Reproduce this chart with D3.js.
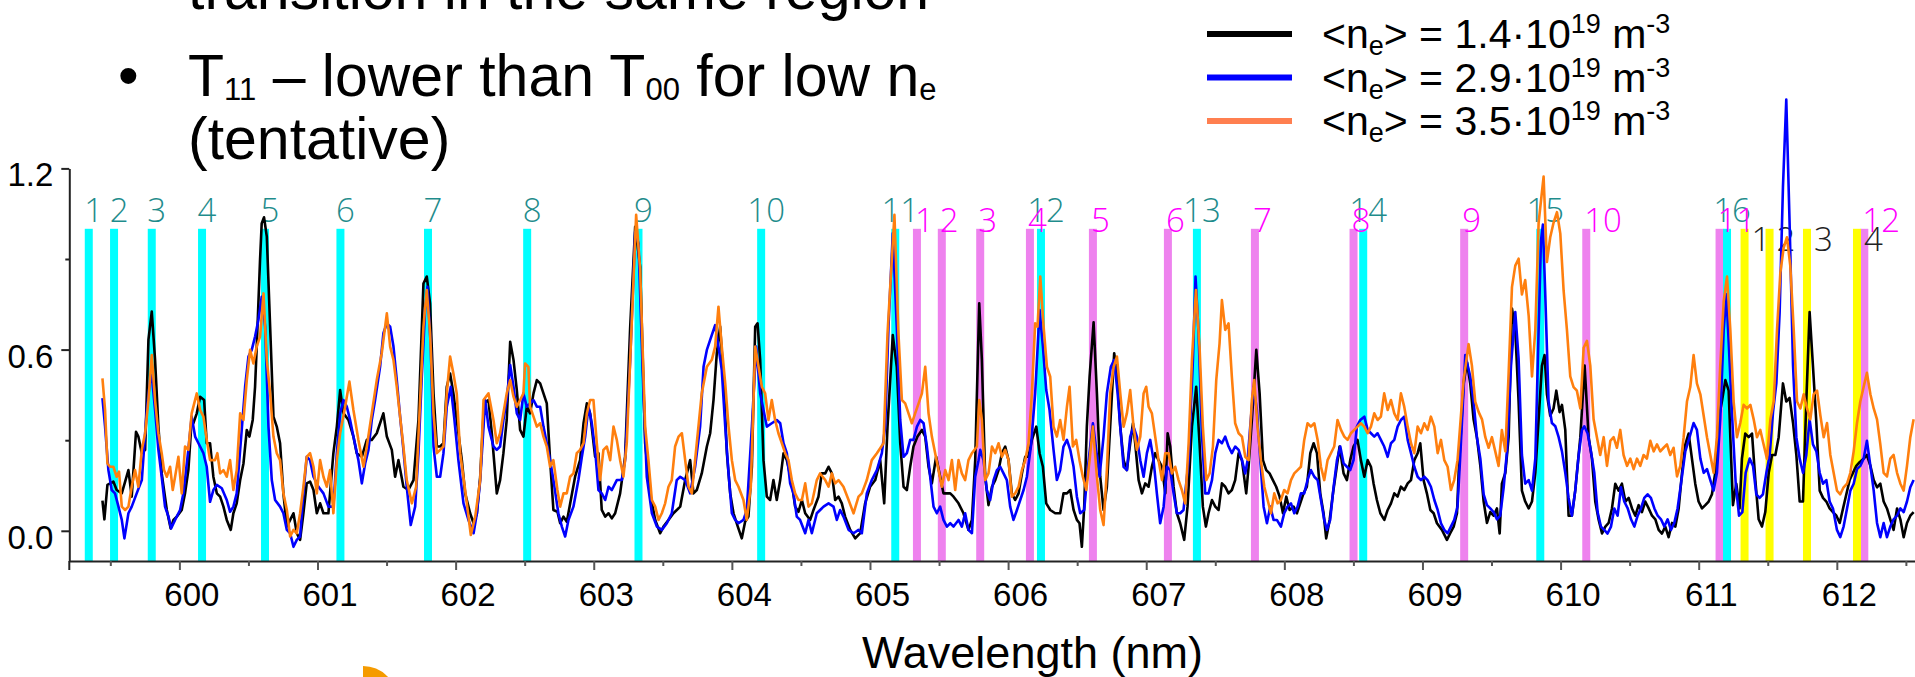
<!DOCTYPE html>
<html>
<head>
<meta charset="utf-8">
<script src="https://cdn.jsdelivr.net/npm/d3@7"></script>
<style>
  body { margin: 0; background: #fff; }
  svg { display: block; font-family: "Liberation Sans", Arial, sans-serif; white-space: pre; }
  .mark-label { font-family: "Open Sans", "Noto Sans", sans-serif; font-weight: 300; font-size: 33px; }
</style>
</head>
<body>
<svg id="chart" width="1915" height="677"></svg>
<script>
// line positions (nm) for the three marker families
const cyanLines = [599.344, 599.527, 599.80, 600.164, 600.62, 601.166, 601.80, 602.518, 603.324,
  604.212, 605.183, 606.238, 607.367, 608.571, 609.853, 611.205];
const magentaLines = [605.34, 605.52, 605.798, 606.158, 606.614, 607.157, 607.787, 608.501,
  609.302, 610.186, 611.151, 612.199];
const yellowLines = [611.332, 611.513, 611.784, 612.146];

const xTicks = [600, 601, 602, 603, 604, 605, 606, 607, 608, 609, 610, 611, 612];
const xMinor = [599.5, 600.5, 601.5, 602.5, 603.5, 604.5, 605.5, 606.5, 607.5, 608.5, 609.5, 610.5, 611.5, 612.5];
const yTicks = [0.0, 0.6, 1.2];
const yMinor = [0.3, 0.9];

const densities = ["1.4", "2.9", "3.5"];

// spectra: [wavelength nm, intensity]
const black = [
  [599.443,0.100],[599.457,0.038],[599.479,0.152],[599.522,0.163],[599.546,0.135],[599.583,0.124],
  [599.631,0.201],[599.655,0.113],[599.686,0.328],[599.703,0.312],[599.728,0.257],[599.752,0.268],
  [599.776,0.632],[599.800,0.726],[599.824,0.566],[599.848,0.345],[599.872,0.190],[599.909,0.069],
  [599.937,0.008],[599.957,0.036],[599.981,0.047],[600.017,0.069],[600.041,0.124],[600.065,0.201],
  [600.089,0.367],[600.101,0.356],[600.126,0.389],[600.150,0.444],[600.179,0.433],[600.198,0.290],
  [600.222,0.290],[600.246,0.179],[600.271,0.124],[600.295,0.113],[600.319,0.080],[600.343,0.036],
  [600.372,0.003],[600.391,0.058],[600.415,0.091],[600.440,0.168],[600.464,0.223],[600.488,0.334],
  [600.507,0.312],[600.531,0.367],[600.548,0.477],[600.560,0.610],[600.584,0.897],[600.596,1.018],
  [600.613,1.038],[600.633,0.974],[600.657,0.676],[600.681,0.378],[600.705,0.345],[600.729,0.290],
  [600.753,0.124],[600.778,0.014],[600.802,0.036],[600.826,0.058],[600.850,-0.008],[600.874,-0.030],
  [600.898,0.058],[600.922,0.157],[600.946,0.163],[600.971,0.135],[600.995,0.058],[601.019,0.091],
  [601.043,0.058],[601.079,0.058],[601.115,0.257],[601.140,0.345],[601.164,0.466],[601.188,0.389],
  [601.224,0.367],[601.260,0.312],[601.284,0.257],[601.321,0.245],[601.357,0.301],[601.393,0.301],
  [601.429,0.323],[601.477,0.389],[601.502,0.312],[601.538,0.268],[601.562,0.179],[601.586,0.234],
  [601.622,0.146],[601.658,0.135],[601.695,0.168],[601.731,0.367],[601.767,0.819],[601.791,0.842],
  [601.815,0.753],[601.840,0.455],[601.864,0.279],[601.888,0.279],[601.912,0.290],[601.936,0.477],
  [601.960,0.521],[601.984,0.455],[602.008,0.367],[602.045,0.234],[602.069,0.124],[602.105,0.058],
  [602.130,0.025],[602.154,0.058],[602.178,0.179],[602.206,0.422],[602.238,0.433],[602.262,0.323],
  [602.298,0.124],[602.322,0.168],[602.346,0.257],[602.370,0.367],[602.395,0.626],[602.419,0.566],
  [602.443,0.466],[602.467,0.334],[602.491,0.312],[602.515,0.411],[602.539,0.389],[602.564,0.455],
  [602.588,0.499],[602.612,0.488],[602.636,0.455],[602.660,0.422],[602.684,0.234],[602.708,0.069],
  [602.737,0.063],[602.757,0.025],[602.781,0.047],[602.805,0.030],[602.834,0.102],[602.865,0.179],
  [602.901,0.234],[602.926,0.356],[602.950,0.422],[602.974,0.389],[603.010,0.245],[603.034,0.257],
  [603.058,0.069],[603.083,0.047],[603.107,0.058],[603.131,0.041],[603.155,0.058],[603.191,0.124],
  [603.227,0.245],[603.264,0.676],[603.300,1.007],[603.336,0.875],[603.372,0.290],[603.408,0.124],
  [603.445,0.036],[603.481,-0.008],[603.505,0.014],[603.541,0.036],[603.577,0.058],[603.626,0.080],
  [603.662,0.168],[603.698,0.234],[603.722,0.124],[603.746,0.135],[603.782,0.190],[603.819,0.279],
  [603.843,0.323],[603.867,0.433],[603.891,0.588],[603.915,0.676],[603.939,0.510],[603.964,0.257],
  [603.988,0.124],[604.012,0.058],[604.043,0.014],[604.072,-0.025],[604.096,0.030],[604.120,0.047],
  [604.145,0.212],[604.169,0.676],[604.186,0.687],[604.205,0.566],[604.229,0.234],[604.253,0.113],
  [604.277,0.102],[604.301,0.168],[604.325,0.102],[604.350,0.168],[604.374,0.257],[604.398,0.234],
  [604.434,0.157],[604.458,0.080],[604.482,0.063],[604.507,0.102],[604.531,0.058],[604.567,0.036],
  [604.591,0.069],[604.627,0.113],[604.651,0.190],[604.676,0.190],[604.700,0.212],[604.724,0.190],
  [604.748,0.102],[604.772,0.113],[604.796,0.091],[604.820,0.047],[604.857,0.003],[604.893,-0.025],
  [604.929,-0.008],[604.965,0.091],[605.001,0.146],[605.038,0.168],[605.074,0.234],[605.103,0.091],
  [605.127,0.345],[605.165,0.648],[605.194,0.543],[605.219,0.290],[605.243,0.146],[605.267,0.135],
  [605.291,0.212],[605.315,0.279],[605.344,0.312],[605.376,0.334],[605.400,0.312],[605.424,0.212],
  [605.448,0.157],[605.479,0.245],[605.508,0.179],[605.532,0.124],[605.581,0.124],[605.605,0.113],
  [605.641,0.091],[605.677,0.058],[605.713,0.003],[605.738,0.036],[605.762,0.234],[605.791,0.753],
  [605.810,0.566],[605.834,0.179],[605.858,0.085],[605.883,0.146],[605.907,0.168],[605.931,0.201],
  [605.955,0.257],[605.979,0.279],[606.003,0.234],[606.027,0.124],[606.051,0.102],[606.076,0.124],
  [606.100,0.190],[606.124,0.245],[606.148,0.245],[606.172,0.301],[606.204,0.345],[606.228,0.257],
  [606.252,0.212],[606.276,0.091],[606.305,0.069],[606.341,0.058],[606.377,0.058],[606.401,0.124],
  [606.426,0.124],[606.450,0.135],[606.474,0.069],[606.498,0.036],[606.517,0.025],[606.534,-0.053],
  [606.551,0.080],[606.570,0.345],[606.590,0.510],[606.619,0.690],[606.643,0.455],[606.667,0.179],
  [606.691,0.069],[606.715,0.146],[606.739,0.345],[606.768,0.588],[606.788,0.521],[606.812,0.345],
  [606.836,0.234],[606.860,0.201],[606.884,0.290],[606.904,0.356],[606.920,0.290],[606.945,0.168],
  [606.969,0.124],[606.993,0.157],[607.017,0.146],[607.041,0.212],[607.065,0.257],[607.089,0.234],
  [607.114,0.212],[607.138,0.124],[607.155,0.323],[607.174,0.279],[607.198,0.146],[607.222,0.058],
  [607.246,0.025],[607.275,-0.030],[607.299,0.080],[607.331,0.345],[607.362,0.477],[607.386,0.290],
  [607.410,0.080],[607.432,0.014],[607.451,0.058],[607.476,0.102],[607.500,0.080],[607.524,0.069],
  [607.548,0.157],[607.572,0.146],[607.596,0.124],[607.620,0.135],[607.644,0.168],[607.669,0.257],
  [607.693,0.234],[607.724,0.124],[607.741,0.212],[607.765,0.367],[607.797,0.599],[607.821,0.455],
  [607.845,0.234],[607.869,0.201],[607.893,0.190],[607.917,0.168],[607.941,0.146],[607.966,0.113],
  [607.990,0.058],[608.014,0.113],[608.038,0.069],[608.067,0.080],[608.091,0.058],[608.115,0.091],
  [608.139,0.124],[608.163,0.146],[608.188,0.257],[608.212,0.290],[608.236,0.257],[608.260,0.124],
  [608.284,0.058],[608.303,-0.025],[608.328,0.036],[608.352,0.124],[608.376,0.201],[608.400,0.279],
  [608.429,0.190],[608.453,0.168],[608.477,0.234],[608.501,0.279],[608.530,0.301],[608.554,0.234],
  [608.579,0.179],[608.603,0.234],[608.627,0.212],[608.646,0.157],[608.670,0.102],[608.695,0.058],
  [608.724,0.036],[608.748,0.069],[608.772,0.091],[608.796,0.124],[608.820,0.113],[608.844,0.146],
  [608.868,0.135],[608.893,0.157],[608.917,0.168],[608.941,0.234],[608.965,0.257],[608.984,0.290],
  [609.008,0.168],[609.032,0.124],[609.057,0.069],[609.081,0.058],[609.105,0.025],[609.141,0.003],
  [609.177,-0.030],[609.201,-0.008],[609.226,0.014],[609.250,0.058],[609.262,0.192],[609.298,0.488],
  [609.322,0.558],[609.346,0.488],[609.370,0.369],[609.394,0.310],[609.419,0.215],[609.443,0.097],
  [609.467,0.026],[609.491,0.062],[609.515,0.050],[609.539,0.074],[609.559,-0.009],[609.575,0.156],
  [609.600,0.192],[609.624,0.310],[609.648,0.736],[609.672,0.665],[609.696,0.428],[609.720,0.133],
  [609.744,0.097],[609.769,0.074],[609.793,0.097],[609.817,0.192],[609.841,0.369],[609.865,0.547],
  [609.884,0.582],[609.901,0.452],[609.925,0.381],[609.949,0.405],[609.969,0.464],[609.993,0.393],
  [610.010,0.417],[610.034,0.334],[610.058,0.050],[610.082,0.050],[610.106,0.133],[610.143,0.310],
  [610.174,0.547],[610.203,0.310],[610.227,0.239],[610.251,0.097],[610.275,0.038],[610.300,-0.009],
  [610.324,0.014],[610.348,0.026],[610.372,0.074],[610.396,0.156],[610.420,0.133],[610.444,0.156],
  [610.469,0.097],[610.493,0.109],[610.517,0.074],[610.541,0.050],[610.565,0.085],[610.589,0.062],
  [610.613,0.097],[610.638,0.074],[610.662,0.050],[610.686,0.038],[610.710,0.003],[610.734,-0.009],
  [610.758,0.014],[610.782,-0.021],[610.807,0.026],[610.831,0.014],[610.855,0.074],[610.879,0.192],
  [610.903,0.286],[610.927,0.322],[610.951,0.239],[610.975,0.156],[610.999,0.097],[611.024,0.074],
  [611.048,0.085],[611.072,0.097],[611.096,0.121],[611.120,0.192],[611.144,0.369],[611.168,0.428],
  [611.193,0.499],[611.217,0.464],[611.229,0.310],[611.248,0.085],[611.272,0.156],[611.296,0.074],
  [611.313,0.239],[611.337,0.322],[611.362,0.310],[611.386,0.322],[611.410,0.168],[611.434,0.038],
  [611.458,0.014],[611.482,0.062],[611.507,0.192],[611.531,0.251],[611.555,0.251],[611.579,0.310],
  [611.610,0.488],[611.634,0.428],[611.658,0.440],[611.683,0.357],[611.707,0.251],[611.731,0.097],
  [611.755,0.097],[611.779,0.428],[611.803,0.724],[611.827,0.547],[611.852,0.357],[611.876,0.133],
  [611.900,0.109],[611.924,0.097],[611.948,0.074],[611.972,0.062],[611.997,0.050],[612.021,0.026],
  [612.045,0.074],[612.069,0.121],[612.093,0.168],[612.117,0.192],[612.141,0.215],[612.165,0.227],
  [612.194,0.239],[612.218,0.251],[612.243,0.215],[612.267,0.168],[612.291,0.144],[612.315,0.156],
  [612.339,0.097],[612.363,0.074],[612.387,0.038],[612.411,0.003],[612.436,0.074],[612.460,0.038],
  [612.484,-0.021],[612.508,0.026],[612.532,0.050],[612.556,0.062]
];

const blue = [
  [599.443,0.439],[599.462,0.345],[599.486,0.201],[599.510,0.135],[599.534,0.124],[599.559,0.080],
  [599.583,0.036],[599.602,-0.025],[599.631,0.058],[599.655,0.080],[599.691,0.124],[599.728,0.168],
  [599.764,0.400],[599.788,0.499],[599.800,0.516],[599.824,0.400],[599.848,0.268],[599.872,0.179],
  [599.896,0.080],[599.921,0.047],[599.940,0.008],[599.969,0.036],[600.005,0.069],[600.029,0.124],
  [600.065,0.268],[600.089,0.378],[600.114,0.312],[600.138,0.290],[600.174,0.257],[600.198,0.212],
  [600.222,0.096],[600.246,0.135],[600.271,0.152],[600.307,0.141],[600.343,0.102],[600.367,0.063],
  [600.391,0.080],[600.415,0.124],[600.440,0.268],[600.476,0.477],[600.500,0.577],[600.524,0.599],
  [600.548,0.643],[600.572,0.698],[600.596,0.775],[600.621,0.676],[600.645,0.345],[600.669,0.168],
  [600.693,0.102],[600.729,0.080],[600.753,0.058],[600.778,0.003],[600.802,-0.008],[600.826,-0.053],
  [600.850,-0.030],[600.874,-0.019],[600.898,0.124],[600.922,0.245],[600.946,0.234],[600.971,0.179],
  [601.007,0.146],[601.043,0.124],[601.079,0.080],[601.115,0.080],[601.140,0.257],[601.164,0.389],
  [601.188,0.433],[601.212,0.411],[601.236,0.367],[601.260,0.312],[601.296,0.234],[601.321,0.157],
  [601.345,0.223],[601.369,0.268],[601.393,0.367],[601.417,0.433],[601.453,0.543],[601.477,0.654],
  [601.502,0.687],[601.526,0.676],[601.550,0.610],[601.574,0.499],[601.598,0.378],[601.622,0.268],
  [601.646,0.146],[601.675,0.019],[601.707,0.080],[601.731,0.257],[601.755,0.510],[601.779,0.731],
  [601.796,0.808],[601.820,0.610],[601.840,0.279],[601.864,0.179],[601.888,0.179],[601.912,0.257],
  [601.936,0.411],[601.965,0.477],[601.989,0.378],[602.020,0.234],[602.057,0.091],[602.093,0.036],
  [602.130,-0.008],[602.154,0.058],[602.178,0.168],[602.214,0.433],[602.238,0.345],[602.274,0.279],
  [602.298,0.268],[602.322,0.279],[602.346,0.367],[602.370,0.433],[602.395,0.549],[602.419,0.477],
  [602.443,0.389],[602.467,0.367],[602.491,0.455],[602.515,0.411],[602.539,0.422],[602.564,0.433],
  [602.588,0.411],[602.612,0.411],[602.636,0.345],[602.660,0.290],[602.684,0.234],[602.708,0.168],
  [602.744,0.058],[602.769,0.014],[602.793,-0.019],[602.817,0.036],[602.853,0.080],[602.889,0.168],
  [602.914,0.245],[602.938,0.312],[602.962,0.411],[602.986,0.356],[603.010,0.268],[603.034,0.135],
  [603.058,0.124],[603.083,0.102],[603.107,0.146],[603.131,0.135],[603.167,0.168],[603.203,0.168],
  [603.227,0.234],[603.264,0.566],[603.300,0.990],[603.324,0.952],[603.360,0.455],[603.384,0.179],
  [603.421,0.058],[603.457,0.014],[603.493,0.003],[603.529,0.025],[603.565,0.058],[603.601,0.168],
  [603.626,0.179],[603.662,0.168],[603.698,0.124],[603.734,0.212],[603.770,0.345],[603.795,0.543],
  [603.819,0.599],[603.843,0.632],[603.879,0.681],[603.903,0.610],[603.927,0.532],[603.952,0.345],
  [603.976,0.190],[604.000,0.058],[604.024,0.036],[604.048,0.025],[604.084,0.036],[604.108,0.069],
  [604.145,0.345],[604.176,0.610],[604.205,0.455],[604.229,0.400],[604.253,0.345],[604.289,0.356],
  [604.325,0.367],[604.350,0.356],[604.374,0.290],[604.398,0.257],[604.422,0.157],[604.446,0.124],
  [604.470,0.047],[604.494,0.036],[604.531,-0.008],[604.555,0.036],[604.579,-0.008],[604.615,0.058],
  [604.639,0.069],[604.664,0.080],[604.700,0.091],[604.736,0.080],[604.760,0.036],[604.784,0.069],
  [604.808,0.047],[604.845,0.003],[604.881,-0.008],[604.917,0.003],[604.941,-0.008],[604.977,0.124],
  [605.013,0.168],[605.050,0.201],[605.086,0.257],[605.110,0.345],[605.134,0.676],[605.165,0.985],
  [605.194,0.676],[605.219,0.367],[605.243,0.245],[605.267,0.257],[605.291,0.301],[605.315,0.301],
  [605.340,0.345],[605.364,0.367],[605.388,0.356],[605.412,0.279],[605.436,0.179],[605.460,0.080],
  [605.484,0.058],[605.508,0.080],[605.532,0.036],[605.557,0.014],[605.581,0.025],[605.605,0.014],
  [605.641,0.036],[605.665,0.014],[605.689,0.058],[605.713,0.003],[605.738,-0.008],[605.762,0.179],
  [605.786,0.234],[605.798,0.268],[605.822,0.234],[605.846,0.135],[605.870,0.102],[605.895,0.168],
  [605.919,0.201],[605.943,0.212],[605.967,0.190],[605.991,0.168],[606.015,0.080],[606.039,0.036],
  [606.064,0.069],[606.088,0.102],[606.112,0.135],[606.136,0.179],[606.165,0.279],[606.196,0.455],
  [606.228,0.731],[606.252,0.610],[606.276,0.466],[606.300,0.400],[606.329,0.268],[606.353,0.168],
  [606.377,0.201],[606.401,0.279],[606.426,0.301],[606.450,0.268],[606.474,0.212],[606.498,0.113],
  [606.522,0.058],[606.551,0.069],[606.583,0.234],[606.614,0.356],[606.638,0.268],[606.662,0.179],
  [606.691,0.312],[606.715,0.455],[606.744,0.543],[606.768,0.566],[606.793,0.455],[606.812,0.345],
  [606.836,0.212],[606.860,0.201],[606.884,0.312],[606.908,0.345],[606.932,0.312],[606.957,0.234],
  [606.981,0.179],[607.005,0.257],[607.029,0.301],[607.053,0.234],[607.077,0.124],[607.101,0.025],
  [607.126,0.080],[607.150,0.212],[607.174,0.201],[607.198,0.124],[607.222,0.058],[607.246,0.058],
  [607.270,0.069],[607.307,0.234],[607.338,0.566],[607.357,0.842],[607.379,0.654],[607.403,0.323],
  [607.427,0.124],[607.451,0.124],[607.476,0.168],[607.500,0.257],[607.524,0.301],[607.548,0.290],
  [607.572,0.312],[607.596,0.279],[607.620,0.257],[607.644,0.279],[607.669,0.268],[607.693,0.234],
  [607.717,0.190],[607.734,0.234],[607.753,0.345],[607.777,0.477],[607.801,0.400],[607.826,0.234],
  [607.850,0.080],[607.874,0.025],[607.898,0.080],[607.922,0.036],[607.946,0.036],[607.975,0.014],
  [607.999,0.058],[608.023,0.080],[608.048,0.091],[608.072,0.058],[608.096,0.080],[608.120,0.124],
  [608.144,0.124],[608.168,0.168],[608.192,0.201],[608.217,0.179],[608.241,0.168],[608.265,0.102],
  [608.289,0.036],[608.308,0.003],[608.332,0.036],[608.357,0.146],[608.381,0.234],[608.405,0.279],
  [608.429,0.223],[608.453,0.212],[608.477,0.201],[608.501,0.234],[608.525,0.345],[608.550,0.367],
  [608.579,0.378],[608.603,0.334],[608.627,0.323],[608.651,0.312],[608.675,0.323],[608.699,0.301],
  [608.723,0.279],[608.748,0.245],[608.772,0.290],[608.796,0.301],[608.820,0.345],[608.844,0.367],
  [608.868,0.378],[608.893,0.301],[608.917,0.257],[608.941,0.212],[608.965,0.179],[608.989,0.168],
  [609.013,0.179],[609.037,0.168],[609.061,0.146],[609.086,0.102],[609.110,0.069],[609.134,0.025],
  [609.158,0.003],[609.182,-0.008],[609.206,0.014],[609.230,0.036],[609.254,0.080],[609.274,0.251],
  [609.310,0.582],[609.346,0.511],[609.370,0.428],[609.394,0.310],[609.419,0.239],[609.443,0.121],
  [609.467,0.085],[609.491,0.074],[609.515,0.062],[609.539,0.038],[609.563,0.050],[609.588,0.144],
  [609.612,0.263],[609.641,0.547],[609.672,0.724],[609.696,0.570],[609.720,0.251],[609.744,0.156],
  [609.769,0.168],[609.793,0.133],[609.817,0.239],[609.841,0.665],[609.858,0.960],[609.872,1.014],
  [609.889,0.783],[609.913,0.428],[609.937,0.357],[609.962,0.346],[609.986,0.310],[610.010,0.263],
  [610.034,0.192],[610.058,0.109],[610.082,0.050],[610.106,0.133],[610.131,0.251],[610.155,0.334],
  [610.172,0.346],[610.196,0.322],[610.220,0.263],[610.244,0.192],[610.268,0.062],[610.292,0.014],
  [610.316,0.003],[610.340,-0.009],[610.365,0.014],[610.389,0.074],[610.413,0.050],[610.437,0.144],
  [610.461,0.097],[610.486,0.074],[610.510,0.038],[610.534,0.014],[610.558,0.050],[610.582,0.074],
  [610.606,0.109],[610.630,0.121],[610.654,0.109],[610.679,0.074],[610.703,0.050],[610.727,0.038],
  [610.751,0.014],[610.775,0.038],[610.799,0.003],[610.823,0.026],[610.847,0.074],[610.872,0.156],
  [610.903,0.263],[610.934,0.310],[610.963,0.357],[610.987,0.334],[611.012,0.239],[611.036,0.192],
  [611.060,0.204],[611.084,0.168],[611.108,0.133],[611.132,0.192],[611.156,0.369],[611.181,0.665],
  [611.200,0.783],[611.219,0.606],[611.243,0.369],[611.268,0.156],[611.292,0.050],[611.316,0.062],
  [611.340,0.192],[611.369,0.239],[611.393,0.215],[611.417,0.121],[611.441,0.109],[611.465,0.121],
  [611.490,0.192],[611.514,0.251],[611.538,0.393],[611.562,0.488],[611.586,0.724],[611.610,1.138],
  [611.634,1.428],[611.658,1.020],[611.683,0.547],[611.707,0.310],[611.731,0.239],[611.755,0.192],
  [611.779,0.251],[611.803,0.369],[611.827,0.286],[611.852,0.263],[611.876,0.192],[611.900,0.156],
  [611.924,0.168],[611.948,0.097],[611.972,0.074],[612.001,0.003],[612.025,-0.021],[612.049,0.014],
  [612.074,0.074],[612.098,0.133],[612.122,0.156],[612.146,0.204],[612.170,0.215],[612.194,0.239],
  [612.218,0.298],[612.243,0.215],[612.267,0.133],[612.291,0.026],[612.315,-0.021],[612.339,0.026],
  [612.363,-0.021],[612.387,0.014],[612.411,0.038],[612.436,0.050],[612.460,0.074],[612.484,0.062],
  [612.508,0.097],[612.532,0.144],[612.556,0.168]
];

const orange = [
  [599.443,0.505],[599.462,0.400],[599.479,0.223],[599.498,0.212],[599.522,0.212],[599.546,0.179],
  [599.563,0.196],[599.583,0.080],[599.607,0.069],[599.631,0.080],[599.655,0.146],[599.679,0.201],
  [599.703,0.146],[599.728,0.268],[599.752,0.323],[599.776,0.433],[599.800,0.582],[599.824,0.433],
  [599.848,0.323],[599.872,0.257],[599.889,0.201],[599.909,0.179],[599.933,0.212],[599.952,0.135],
  [599.969,0.179],[599.993,0.245],[600.017,0.124],[600.041,0.279],[600.065,0.268],[600.089,0.389],
  [600.126,0.455],[600.150,0.400],[600.174,0.378],[600.198,0.301],[600.222,0.234],[600.258,0.234],
  [600.275,0.257],[600.295,0.190],[600.319,0.201],[600.343,0.179],[600.367,0.234],[600.391,0.135],
  [600.415,0.201],[600.440,0.389],[600.464,0.367],[600.488,0.499],[600.512,0.599],[600.536,0.554],
  [600.560,0.610],[600.584,0.643],[600.609,0.786],[600.633,0.566],[600.657,0.455],[600.681,0.312],
  [600.705,0.257],[600.729,0.234],[600.753,0.124],[600.778,0.069],[600.802,-0.019],[600.826,0.003],
  [600.850,-0.008],[600.874,0.058],[600.898,0.146],[600.922,0.245],[600.946,0.257],[600.971,0.212],
  [600.995,0.124],[601.019,0.234],[601.043,0.179],[601.067,0.146],[601.091,0.201],[601.115,0.058],
  [601.140,0.234],[601.164,0.323],[601.200,0.411],[601.231,0.494],[601.260,0.400],[601.296,0.301],
  [601.333,0.212],[601.357,0.279],[601.393,0.389],[601.429,0.499],[601.465,0.588],[601.502,0.720],
  [601.526,0.610],[601.550,0.566],[601.574,0.477],[601.598,0.378],[601.622,0.279],[601.646,0.168],
  [601.683,0.091],[601.714,0.146],[601.743,0.433],[601.767,0.676],[601.791,0.797],[601.815,0.654],
  [601.840,0.389],[601.864,0.257],[601.888,0.268],[601.912,0.279],[601.936,0.455],[601.960,0.577],
  [601.984,0.521],[602.008,0.455],[602.033,0.257],[602.069,0.135],[602.110,-0.014],[602.142,0.047],
  [602.178,0.168],[602.202,0.433],[602.238,0.455],[602.274,0.367],[602.298,0.290],[602.322,0.323],
  [602.346,0.389],[602.370,0.455],[602.395,0.499],[602.419,0.444],[602.443,0.411],[602.467,0.433],
  [602.491,0.455],[602.503,0.554],[602.527,0.543],[602.539,0.411],[602.564,0.378],[602.588,0.345],
  [602.612,0.356],[602.636,0.312],[602.660,0.279],[602.684,0.212],[602.708,0.234],[602.737,0.135],
  [602.757,0.080],[602.781,0.124],[602.805,0.124],[602.829,0.179],[602.853,0.190],[602.877,0.257],
  [602.901,0.268],[602.926,0.290],[602.950,0.389],[602.974,0.433],[602.998,0.433],[603.022,0.290],
  [603.046,0.168],[603.070,0.268],[603.095,0.279],[603.119,0.234],[603.143,0.345],[603.167,0.301],
  [603.191,0.234],[603.215,0.179],[603.239,0.290],[603.264,0.566],[603.307,1.046],[603.336,0.864],
  [603.372,0.345],[603.396,0.234],[603.421,0.102],[603.445,0.080],[603.469,0.036],[603.493,0.058],
  [603.517,0.091],[603.541,0.146],[603.565,0.168],[603.589,0.279],[603.614,0.312],[603.638,0.323],
  [603.662,0.234],[603.686,0.146],[603.710,0.124],[603.746,0.290],[603.782,0.455],[603.819,0.543],
  [603.855,0.566],[603.879,0.610],[603.903,0.742],[603.927,0.610],[603.952,0.488],[603.976,0.345],
  [604.000,0.234],[604.024,0.168],[604.048,0.146],[604.084,0.102],[604.108,0.036],[604.137,0.146],
  [604.169,0.610],[604.193,0.543],[604.217,0.477],[604.241,0.455],[604.265,0.367],[604.289,0.433],
  [604.313,0.367],[604.337,0.323],[604.362,0.290],[604.386,0.257],[604.410,0.234],[604.434,0.168],
  [604.458,0.124],[604.482,0.102],[604.507,0.102],[604.531,0.157],[604.555,0.080],[604.579,0.091],
  [604.615,0.168],[604.639,0.190],[604.676,0.168],[604.700,0.146],[604.724,0.190],[604.748,0.157],
  [604.772,0.168],[604.808,0.146],[604.845,0.102],[604.881,0.058],[604.917,0.113],[604.941,0.124],
  [604.977,0.168],[605.013,0.234],[605.050,0.257],[605.098,0.290],[605.127,0.654],[605.177,1.046],
  [605.206,0.654],[605.231,0.433],[605.255,0.422],[605.279,0.389],[605.303,0.356],[605.327,0.389],
  [605.352,0.422],[605.376,0.455],[605.400,0.543],[605.424,0.389],[605.448,0.312],[605.472,0.257],
  [605.496,0.201],[605.520,0.146],[605.545,0.201],[605.569,0.168],[605.593,0.234],[605.617,0.135],
  [605.641,0.234],[605.665,0.190],[605.689,0.168],[605.713,0.234],[605.738,0.257],[605.774,0.279],
  [605.791,0.433],[605.810,0.367],[605.834,0.168],[605.858,0.190],[605.883,0.279],[605.907,0.257],
  [605.931,0.290],[605.955,0.245],[605.979,0.268],[606.003,0.234],[606.027,0.113],[606.051,0.124],
  [606.076,0.146],[606.100,0.201],[606.124,0.234],[606.148,0.290],[606.172,0.455],[606.196,0.687],
  [606.213,0.676],[606.233,0.842],[606.257,0.676],[606.281,0.543],[606.305,0.510],[606.329,0.345],
  [606.353,0.312],[606.377,0.367],[606.401,0.301],[606.426,0.411],[606.445,0.477],[606.469,0.279],
  [606.493,0.301],[606.517,0.234],[606.541,0.179],[606.566,0.135],[606.590,0.234],[606.614,0.345],
  [606.643,0.179],[606.667,0.069],[606.691,0.019],[606.715,0.201],[606.739,0.455],[606.764,0.543],
  [606.788,0.577],[606.812,0.455],[606.836,0.345],[606.860,0.389],[606.884,0.466],[606.908,0.345],
  [606.932,0.268],[606.957,0.312],[606.981,0.455],[607.000,0.477],[607.017,0.411],[607.041,0.389],
  [607.065,0.312],[607.089,0.234],[607.114,0.168],[607.138,0.257],[607.162,0.257],[607.186,0.190],
  [607.210,0.212],[607.234,0.168],[607.258,0.135],[607.282,0.091],[607.307,0.290],[607.331,0.566],
  [607.360,0.797],[607.386,0.610],[607.410,0.345],[607.435,0.168],[607.459,0.190],[607.483,0.279],
  [607.507,0.499],[607.531,0.621],[607.548,0.764],[607.572,0.665],[607.596,0.687],[607.620,0.510],
  [607.644,0.356],[607.669,0.323],[607.693,0.312],[607.717,0.245],[607.741,0.234],[607.765,0.433],
  [607.782,0.499],[607.806,0.345],[607.830,0.234],[607.855,0.146],[607.879,0.102],[607.903,0.058],
  [607.927,0.124],[607.951,0.091],[607.975,0.102],[607.999,0.135],[608.023,0.124],[608.048,0.168],
  [608.072,0.190],[608.096,0.201],[608.120,0.212],[608.144,0.301],[608.168,0.356],[608.192,0.345],
  [608.217,0.356],[608.241,0.301],[608.265,0.212],[608.289,0.168],[608.313,0.234],[608.337,0.257],
  [608.361,0.279],[608.385,0.367],[608.410,0.334],[608.434,0.312],[608.458,0.301],[608.482,0.323],
  [608.506,0.334],[608.530,0.345],[608.554,0.356],[608.579,0.345],[608.603,0.323],[608.627,0.345],
  [608.651,0.389],[608.675,0.367],[608.699,0.378],[608.723,0.455],[608.748,0.400],[608.772,0.433],
  [608.796,0.389],[608.820,0.367],[608.844,0.455],[608.868,0.411],[608.893,0.345],[608.917,0.290],
  [608.941,0.257],[608.965,0.345],[608.989,0.323],[609.013,0.356],[609.037,0.334],[609.061,0.378],
  [609.086,0.345],[609.110,0.257],[609.134,0.301],[609.158,0.234],[609.182,0.212],[609.206,0.135],
  [609.230,0.168],[609.254,0.234],[609.298,0.499],[609.334,0.618],[609.358,0.547],[609.382,0.428],
  [609.407,0.393],[609.431,0.369],[609.455,0.310],[609.479,0.275],[609.503,0.310],[609.527,0.263],
  [609.551,0.215],[609.575,0.334],[609.600,0.263],[609.624,0.523],[609.648,0.807],[609.672,0.878],
  [609.696,0.901],[609.720,0.783],[609.744,0.830],[609.769,0.712],[609.793,0.511],[609.817,0.665],
  [609.841,1.020],[609.877,1.173],[609.901,0.890],[609.925,0.972],[609.949,1.020],[609.974,1.055],
  [609.998,0.984],[610.022,0.795],[610.046,0.665],[610.070,0.511],[610.094,0.476],[610.118,0.464],
  [610.143,0.405],[610.167,0.606],[610.191,0.629],[610.215,0.547],[610.239,0.369],[610.263,0.310],
  [610.287,0.251],[610.312,0.310],[610.336,0.215],[610.360,0.298],[610.384,0.310],[610.408,0.275],
  [610.432,0.334],[610.456,0.251],[610.481,0.215],[610.505,0.239],[610.529,0.204],[610.553,0.239],
  [610.577,0.215],[610.601,0.251],[610.625,0.239],[610.650,0.298],[610.674,0.263],[610.698,0.286],
  [610.722,0.263],[610.746,0.275],[610.770,0.286],[610.794,0.251],[610.818,0.275],[610.843,0.180],
  [610.867,0.215],[610.891,0.310],[610.915,0.428],[610.939,0.476],[610.963,0.582],[610.987,0.488],
  [611.012,0.452],[611.036,0.381],[611.060,0.310],[611.084,0.251],[611.108,0.192],[611.132,0.310],
  [611.156,0.547],[611.181,0.760],[611.205,0.842],[611.229,0.665],[611.253,0.428],[611.277,0.310],
  [611.301,0.357],[611.325,0.417],[611.349,0.405],[611.374,0.417],[611.398,0.369],[611.422,0.310],
  [611.446,0.334],[611.470,0.286],[611.494,0.239],[611.519,0.369],[611.543,0.428],[611.567,0.665],
  [611.591,0.854],[611.615,0.937],[611.639,0.972],[611.663,0.878],[611.688,0.665],[611.712,0.428],
  [611.736,0.405],[611.760,0.452],[611.784,0.405],[611.808,0.369],[611.832,0.452],[611.857,0.464],
  [611.881,0.381],[611.905,0.310],[611.929,0.357],[611.953,0.251],[611.977,0.192],[612.001,0.133],
  [612.025,0.121],[612.049,0.144],[612.074,0.156],[612.098,0.192],[612.122,0.263],[612.146,0.357],
  [612.170,0.428],[612.194,0.476],[612.218,0.523],[612.243,0.452],[612.267,0.405],[612.291,0.369],
  [612.315,0.286],[612.339,0.192],[612.363,0.180],[612.387,0.239],[612.411,0.251],[612.436,0.192],
  [612.460,0.156],[612.484,0.133],[612.508,0.215],[612.532,0.310],[612.556,0.369]
];

const series = [
  { name: "black", data: black, color: "#000000", key: "#000000" },
  { name: "blue", data: blue, color: "#0000ff", key: "#0000ff" },
  { name: "orange", data: orange, color: "#ff7f0e", key: "#ff7f50" }
];

const svg = d3.select("#chart");

const x = d3.scaleLinear().domain([599.203, 612.566]).range([69.3, 1915]);
const y = d3.scaleLinear().domain([-0.1, 1.2]).range([561, 168.4]);

// heading text above the chart
const head = svg.append("g").attr("font-size", 59).attr("fill", "#000");
head.append("text").attr("x", 188).attr("y", 9).text("transition in the same region");
head.append("text").attr("x", 118).attr("y", 96).text("\u2022");
const line1 = head.append("text").attr("x", 188).attr("y", 96);
line1.append("tspan").text("T");
line1.append("tspan").attr("font-size", 31).attr("dy", 4).text("11");
line1.append("tspan").attr("dy", -4).text(" \u2013 lower than T");
line1.append("tspan").attr("font-size", 31).attr("dy", 4).text("00");
line1.append("tspan").attr("dy", -4).text(" for low n");
line1.append("tspan").attr("font-size", 31).attr("dy", 4).text("e");
head.append("text").attr("x", 188).attr("y", 159).text("(tentative)");

// marker bars
const barTop = y(1.0), barBottom = y(-0.1);
function bars(list, color) {
  svg.append("g").selectAll("rect")
    .data(list)
    .join("rect")
    .attr("x", d => x(d) - 4)
    .attr("y", barTop)
    .attr("width", 8)
    .attr("height", barBottom - barTop)
    .attr("fill", color);
}
bars(magentaLines, "#ee82ee");
bars(cyanLines, "#00ffff");
bars(yellowLines, "#ffff00");

// marker numbers
svg.append("g").attr("class", "mark-label").attr("fill", "#1f8c8c")
  .selectAll("text").data(cyanLines).join("text")
  .attr("x", d => x(d) + 5).attr("y", 222).attr("text-anchor", "middle")
  .text((d, i) => i + 1);
svg.append("g").attr("class", "mark-label").attr("fill", "#ff00ff")
  .selectAll("text").data(magentaLines).join("text")
  .attr("x", d => x(d) - 2).attr("y", 232)
  .text((d, i) => i + 1);
svg.append("g").attr("class", "mark-label").attr("fill", "#222")
  .selectAll("text").data(yellowLines).join("text")
  .attr("x", d => x(d) + 7).attr("y", 251)
  .text((d, i) => i + 1);

// spectra
const line = d3.line().x(d => x(d[0])).y(d => y(d[1]));
svg.append("g").selectAll("path")
  .data(series)
  .join("path")
  .attr("d", d => line(d.data))
  .attr("fill", "none")
  .attr("stroke", d => d.color)
  .attr("stroke-width", 2.6)
  .attr("stroke-linejoin", "round");

// x axis
const xAxis = svg.append("g").attr("transform", `translate(0,${y(-0.1)})`)
  .call(d3.axisBottom(x).tickValues(xTicks).tickSize(9).tickSizeOuter(0).tickFormat(d3.format("d")));
xAxis.select(".domain").attr("stroke", "#222").attr("stroke-width", 2);
xAxis.selectAll(".tick line").attr("stroke", "#555").attr("stroke-width", 2);
xAxis.selectAll(".tick text").attr("font-size", 33).attr("font-family", "Liberation Sans, Arial, sans-serif")
  .attr("fill", "#000").attr("y", 45).attr("dy", 0).attr("dx", 12);
const xMinorAxis = svg.append("g").attr("transform", `translate(0,${y(-0.1)})`)
  .call(d3.axisBottom(x).tickValues(xMinor).tickSize(5).tickSizeOuter(0).tickFormat(""));
xMinorAxis.select(".domain").remove();
xMinorAxis.selectAll(".tick line").attr("stroke", "#555").attr("stroke-width", 2);

// y axis
const yAxis = svg.append("g").attr("transform", `translate(${x.range()[0]},0)`)
  .call(d3.axisLeft(y).tickValues(yTicks).tickSize(8).tickSizeOuter(0).tickFormat(d3.format(".1f")));
yAxis.select(".domain").attr("stroke", "#222").attr("stroke-width", 2);
yAxis.selectAll(".tick line").attr("stroke", "#222").attr("stroke-width", 2);
yAxis.selectAll(".tick text").attr("font-size", 33).attr("font-family", "Liberation Sans, Arial, sans-serif")
  .attr("fill", "#000").attr("x", -16).attr("dy", 17.5);
const yMinorAxis = svg.append("g").attr("transform", `translate(${x.range()[0]},0)`)
  .call(d3.axisLeft(y).tickValues(yMinor).tickSize(4).tickSizeOuter(0).tickFormat(""));
yMinorAxis.select(".domain").remove();
yMinorAxis.selectAll(".tick line").attr("stroke", "#222").attr("stroke-width", 2);
svg.append("line")
  .attr("x1", x.range()[0]).attr("x2", x.range()[0])
  .attr("y1", y(-0.1)).attr("y2", y(-0.1) + 9)
  .attr("stroke", "#222").attr("stroke-width", 2);

svg.append("text").attr("x", 862).attr("y", 668).attr("font-size", 45)
  .text("Wavelength (nm)");

// legend
const legend = svg.append("g").selectAll("g")
  .data(series)
  .join("g")
  .attr("transform", (d, i) => `translate(0,${i * 43.5})`);
legend.append("line")
  .attr("x1", 1207).attr("x2", 1292).attr("y1", 34).attr("y2", 34)
  .attr("stroke", d => d.key).attr("stroke-width", 6);
const lt = legend.append("text").attr("x", 1322).attr("y", 48).attr("font-size", 41);
lt.append("tspan").text("<n");
lt.append("tspan").attr("font-size", 27).attr("dy", 7).text("e");
lt.append("tspan").attr("dy", -7).text((d, i) => "> = " + densities[i] + "\u00b710");
lt.append("tspan").attr("font-size", 27).attr("dy", -15).text("19");
lt.append("tspan").attr("dy", 15).text(" m");
lt.append("tspan").attr("font-size", 27).attr("dy", -15).text("-3");

// cropped decoration at the bottom
svg.append("path")
  .attr("d", "M363,700 L363,666 A34,34 0 0 1 397,700 Z")
  .attr("fill", "#f59b00");
</script>
</body>
</html>
